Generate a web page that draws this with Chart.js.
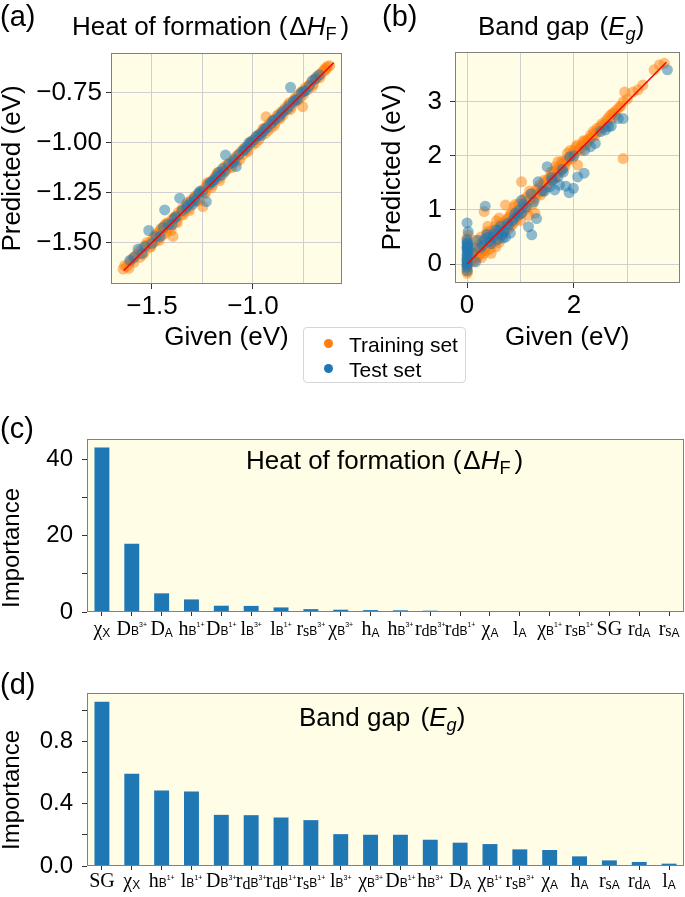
<!DOCTYPE html>
<html><head><meta charset="utf-8">
<script src="https://cdn.jsdelivr.net/npm/chart.js@4/dist/chart.umd.min.js"></script>
<style>
html,body{margin:0;padding:0;background:#fff;}
body{width:685px;height:897px;position:relative;overflow:hidden;font-family:"Liberation Sans",Arial,sans-serif;color:#000;}
canvas{position:absolute;}
.txt{position:absolute;white-space:nowrap;line-height:1;}
.rot{position:absolute;white-space:nowrap;text-align:center;transform:rotate(-90deg);}
sub{font-size:0.7em;vertical-align:-0.25em;line-height:0;}
</style></head><body>
<canvas id="ca" width="350" height="360" style="left:0;top:0"></canvas>
<canvas id="cb" width="325" height="360" style="left:360px;top:0"></canvas>
<canvas id="cc" width="685" height="260" style="left:0;top:390px"></canvas>
<canvas id="cd" width="685" height="247" style="left:0;top:650px"></canvas>

<div class="txt" style="left:0;top:2px;font-size:29px">(a)</div>
<div class="txt" style="left:72px;top:13px;font-size:26px">Heat of formation (<span style="margin-left:2px">Δ</span><i>H</i><sub>F</sub><span style="margin-left:4px">)</span></div>
<div class="txt" style="left:382px;top:2px;font-size:29px">(b)</div>
<div class="txt" style="left:478px;top:13px;font-size:26px">Band gap <span style="margin-left:3px">(</span><i>E<sub>g</sub></i>)</div>

<div style="position:absolute;left:303px;top:327px;width:161px;height:54px;border:1px solid #d6d6d6;border-radius:4px;background:rgba(255,255,255,0.85);">
  <div style="position:absolute;left:20px;top:11px;width:9px;height:9px;border-radius:50%;background:#ff7f0e"></div>
  <div class="txt" style="left:45px;top:6px;font-size:21px">Training set</div>
  <div style="position:absolute;left:20px;top:36px;width:9px;height:9px;border-radius:50%;background:#1f77b4"></div>
  <div class="txt" style="left:45px;top:31px;font-size:21px">Test set</div>
</div>

<div class="txt" style="left:0;top:414px;font-size:29px">(c)</div>
<div class="txt" style="left:246px;top:447px;font-size:26px">Heat of formation (<span style="margin-left:2px">Δ</span><i>H</i><sub>F</sub><span style="margin-left:4px">)</span></div>
<div class="rot" style="left:-89px;top:535px;width:200px;height:26px;line-height:26px;font-size:24px">Importance</div>

<div class="txt" style="left:0;top:670px;font-size:29px">(d)</div>
<div class="txt" style="left:299px;top:704px;font-size:26px">Band gap <span style="margin-left:3px">(</span><i>E<sub>g</sub></i>)</div>
<div class="rot" style="left:-89px;top:777px;width:200px;height:26px;line-height:26px;font-size:24px">Importance</div>

<script>
// ---------------- DATA ----------------
// Panel (a): Heat of formation, [given, predicted] (eV)
const aTrain = [[-1.643,-1.633],[-1.635,-1.615],[-1.625,-1.62],[-1.615,-1.63],[-1.61,-1.6],[-1.6,-1.585],[-1.59,-1.6],[-1.585,-1.57],[-1.575,-1.56],[-1.565,-1.545],[-1.56,-1.575],[-1.55,-1.53],[-1.545,-1.56],[-1.54,-1.55],[-1.53,-1.515],[-1.525,-1.5],[-1.52,-1.51],[-1.51,-1.525],[-1.505,-1.52],[-1.5,-1.49],[-1.495,-1.5],[-1.49,-1.47],[-1.485,-1.495],[-1.48,-1.46],[-1.475,-1.455],[-1.47,-1.48],[-1.465,-1.49],[-1.46,-1.44],[-1.455,-1.43],[-1.45,-1.465],[-1.445,-1.44],[-1.44,-1.42],[-1.435,-1.41],[-1.43,-1.453],[-1.428,-1.405],[-1.42,-1.4],[-1.415,-1.43],[-1.41,-1.415],[-1.405,-1.44],[-1.4,-1.385],[-1.396,-1.47],[-1.39,-1.375],[-1.385,-1.37],[-1.38,-1.395],[-1.375,-1.4],[-1.37,-1.35],[-1.36,-1.365],[-1.355,-1.34],[-1.35,-1.33],[-1.345,-1.36],[-1.34,-1.345],[-1.33,-1.31],[-1.325,-1.3],[-1.32,-1.33],[-1.315,-1.34],[-1.31,-1.29],[-1.3,-1.3],[-1.295,-1.285],[-1.29,-1.27],[-1.285,-1.27],[-1.28,-1.295],[-1.27,-1.26],[-1.265,-1.29],[-1.26,-1.25],[-1.255,-1.24],[-1.248,-1.32],[-1.245,-1.235],[-1.24,-1.255],[-1.235,-1.25],[-1.23,-1.21],[-1.225,-1.2],[-1.22,-1.22],[-1.21,-1.195],[-1.205,-1.225],[-1.2,-1.21],[-1.195,-1.185],[-1.19,-1.175],[-1.18,-1.16],[-1.175,-1.15],[-1.17,-1.18],[-1.165,-1.19],[-1.16,-1.145],[-1.15,-1.16],[-1.145,-1.14],[-1.14,-1.12],[-1.13,-1.135],[-1.125,-1.11],[-1.12,-1.105],[-1.11,-1.12],[-1.105,-1.125],[-1.1,-1.09],[-1.09,-1.08],[-1.085,-1.07],[-1.08,-1.095],[-1.07,-1.06],[-1.065,-1.085],[-1.06,-1.045],[-1.05,-1.06],[-1.045,-1.03],[-1.04,-1.025],[-1.03,-1.04],[-1.025,-1.045],[-1.02,-1.01],[-1.01,-0.995],[-1.005,-0.99],[-1.0,-1.01],[-0.99,-0.985],[-0.985,-1.0],[-0.98,-0.965],[-0.97,-0.985],[-0.965,-0.955],[-0.96,-0.95],[-0.95,-0.93],[-0.945,-0.93],[-0.94,-0.955],[-0.935,-0.87],[-0.93,-0.92],[-0.925,-0.94],[-0.92,-0.905],[-0.91,-0.925],[-0.905,-0.89],[-0.9,-0.885],[-0.895,-0.915],[-0.89,-0.9],[-0.88,-0.865],[-0.875,-0.86],[-0.87,-0.875],[-0.865,-0.88],[-0.86,-0.845],[-0.85,-0.86],[-0.845,-0.835],[-0.84,-0.825],[-0.83,-0.835],[-0.825,-0.81],[-0.82,-0.8],[-0.815,-0.835],[-0.81,-0.82],[-0.8,-0.79],[-0.795,-0.8],[-0.79,-0.775],[-0.78,-0.79],[-0.775,-0.76],[-0.77,-0.76],[-0.765,-0.775],[-0.76,-0.745],[-0.754,-0.82],[-0.75,-0.76],[-0.745,-0.735],[-0.74,-0.725],[-0.73,-0.735],[-0.725,-0.72],[-0.72,-0.71],[-0.71,-0.695],[-0.705,-0.72],[-0.7,-0.705],[-0.69,-0.68],[-0.685,-0.67],[-0.68,-0.67],[-0.67,-0.675],[-0.665,-0.66],[-0.66,-0.65],[-0.65,-0.64],[-0.645,-0.63],[-0.64,-0.635],[-0.635,-0.625],[-0.63,-0.617],[-0.62,-0.615]];
const aTest = [[-1.61,-1.59],[-1.59,-1.575],[-1.569,-1.533],[-1.55,-1.555],[-1.535,-1.52],[-1.516,-1.44],[-1.5,-1.505],[-1.48,-1.47],[-1.46,-1.47],[-1.445,-1.425],[-1.437,-1.337],[-1.42,-1.41],[-1.4,-1.41],[-1.39,-1.38],[-1.38,-1.37],[-1.363,-1.278],[-1.35,-1.34],[-1.33,-1.325],[-1.325,-1.315],[-1.31,-1.3],[-1.3,-1.31],[-1.29,-1.28],[-1.285,-1.29],[-1.27,-1.255],[-1.265,-1.245],[-1.249,-1.245],[-1.231,-1.295],[-1.22,-1.21],[-1.21,-1.2],[-1.2,-1.195],[-1.19,-1.185],[-1.18,-1.17],[-1.17,-1.15],[-1.16,-1.165],[-1.15,-1.13],[-1.14,-1.145],[-1.136,-1.062],[-1.12,-1.11],[-1.1,-1.1],[-1.09,-1.085],[-1.083,-1.12],[-1.07,-1.06],[-1.05,-1.04],[-1.04,-1.035],[-1.03,-1.02],[-1.02,-1.0],[-1.01,-1.0],[-0.995,-0.985],[-0.984,-0.97],[-0.97,-0.96],[-0.96,-0.965],[-0.95,-0.945],[-0.94,-0.93],[-0.93,-0.925],[-0.91,-0.905],[-0.9,-0.89],[-0.89,-0.885],[-0.87,-0.87],[-0.86,-0.855],[-0.85,-0.845],[-0.83,-0.83],[-0.82,-0.815],[-0.814,-0.723],[-0.8,-0.795],[-0.79,-0.785],[-0.78,-0.785],[-0.76,-0.75],[-0.75,-0.745],[-0.74,-0.74],[-0.72,-0.715],[-0.704,-0.687],[-0.69,-0.68],[-0.672,-0.66]];
const aLine = [-1.64, -0.60];
const aXTicks = [-1.5, -1.25, -1.0, -0.75];
const aXLabeled = [-1.5, -1.0];
const aYTicks = [-1.5, -1.25, -1.0, -0.75];

// Panel (b): Band gap, [given, predicted] (eV)
const bTrain = [[0,-0.17],[0,-0.11],[0,-0.05],[0.01,0.02],[0,0.0],[0,0.08],[0.02,0.15],[0,0.3],[0,0.38],[0,0.47],[0.02,0.54],[0.01,-0.14],[0.03,0.25],[0.05,0.1],[0.06,0.2],[0.08,0.05],[0.09,0.12],[0.1,0.15],[0.11,0.3],[0.12,0.2],[0.13,0.05],[0.14,0.44],[0.15,0.1],[0.17,0.2],[0.18,0.12],[0.2,0.25],[0.21,0.35],[0.22,0.15],[0.24,0.2],[0.25,0.3],[0.26,0.5],[0.27,0.12],[0.28,0.38],[0.3,0.25],[0.3,0.42],[0.32,0.2],[0.32,0.97],[0.33,0.3],[0.35,0.45],[0.36,0.25],[0.37,0.6],[0.38,0.55],[0.39,0.7],[0.4,0.35],[0.41,0.55],[0.42,0.5],[0.43,0.28],[0.45,0.2],[0.46,0.62],[0.48,0.45],[0.5,0.6],[0.5,0.38],[0.52,0.42],[0.53,0.7],[0.54,0.32],[0.55,0.8],[0.56,0.45],[0.58,0.55],[0.6,0.85],[0.6,0.4],[0.62,0.5],[0.63,0.75],[0.65,0.7],[0.66,0.55],[0.68,0.62],[0.7,0.78],[0.7,0.6],[0.72,1.09],[0.74,0.82],[0.75,0.7],[0.77,0.65],[0.78,0.85],[0.8,0.9],[0.82,0.7],[0.83,0.95],[0.85,0.88],[0.86,0.75],[0.88,1.05],[0.9,0.8],[0.9,1.1],[0.92,0.95],[0.93,0.85],[0.95,1.0],[0.97,1.12],[0.98,0.92],[1.0,0.81],[1.02,1.52],[1.03,0.95],[1.05,1.05],[1.07,1.2],[1.08,1.0],[1.1,1.15],[1.12,1.24],[1.13,1.05],[1.15,0.9],[1.17,1.35],[1.18,1.2],[1.2,1.3],[1.22,1.1],[1.23,1.2],[1.25,1.28],[1.27,0.94],[1.28,1.22],[1.3,1.38],[1.32,1.3],[1.34,1.4],[1.36,1.46],[1.38,1.28],[1.4,1.43],[1.42,1.35],[1.44,1.55],[1.45,1.5],[1.48,1.42],[1.5,1.55],[1.52,1.48],[1.55,1.61],[1.57,1.7],[1.58,1.55],[1.6,1.65],[1.62,1.7],[1.63,1.58],[1.65,1.6],[1.66,1.8],[1.68,1.75],[1.7,1.89],[1.7,1.74],[1.72,1.72],[1.74,1.7],[1.75,1.8],[1.77,1.9],[1.78,1.85],[1.8,1.78],[1.82,1.9],[1.83,1.8],[1.85,1.88],[1.87,1.92],[1.88,2.05],[1.9,1.92],[1.92,1.98],[1.93,2.1],[1.95,2.0],[1.97,1.95],[1.98,2.05],[2.0,2.1],[2.02,2.05],[2.04,2.17],[2.06,2.2],[2.07,1.83],[2.1,2.12],[2.12,2.15],[2.14,2.1],[2.15,2.2],[2.18,2.28],[2.19,2.26],[2.22,2.2],[2.24,2.25],[2.25,2.3],[2.28,2.28],[2.3,2.32],[2.31,2.38],[2.35,2.35],[2.36,2.45],[2.38,2.42],[2.4,2.38],[2.43,2.51],[2.45,2.45],[2.47,2.5],[2.5,2.55],[2.53,2.6],[2.55,2.52],[2.57,2.58],[2.6,2.65],[2.62,2.6],[2.64,2.7],[2.68,2.75],[2.7,2.68],[2.72,2.78],[2.75,2.8],[2.78,2.75],[2.8,2.85],[2.85,2.9],[2.88,2.92],[2.92,3.0],[2.92,1.95],[2.95,3.18],[3.0,3.05],[3.11,3.18],[3.2,3.22],[3.29,3.31],[3.5,3.59],[3.6,3.68],[3.69,3.71]];
const bTest = [[0,-0.12],[0,-0.06],[0,-0.02],[0,0.0],[0,0.05],[0,0.08],[0,0.1],[0,0.15],[0,0.18],[0.01,0.2],[0,0.25],[0,0.3],[0.01,0.35],[0.01,0.38],[0,0.4],[0,0.45],[0,0.32],[0.01,0.28],[0.02,0.6],[0,0.76],[0.05,0.3],[0.1,0.2],[0.16,0.04],[0.2,0.44],[0.25,0.3],[0.29,0.35],[0.32,0.45],[0.34,1.07],[0.37,0.55],[0.4,0.5],[0.42,0.42],[0.45,0.38],[0.48,0.5],[0.5,0.55],[0.54,0.63],[0.57,0.45],[0.6,0.63],[0.63,0.7],[0.65,0.55],[0.67,0.48],[0.69,0.6],[0.72,0.5],[0.75,0.75],[0.78,0.72],[0.81,0.57],[0.85,0.8],[0.88,0.85],[0.9,0.94],[0.95,0.9],[0.98,1.0],[1.02,1.18],[1.02,0.94],[1.05,1.1],[1.1,1.05],[1.15,0.69],[1.2,1.3],[1.21,0.54],[1.25,1.15],[1.3,0.84],[1.33,1.52],[1.4,1.35],[1.45,1.35],[1.5,1.8],[1.55,1.43],[1.58,1.6],[1.6,1.55],[1.64,1.37],[1.7,1.61],[1.73,1.46],[1.78,1.75],[1.8,1.7],[1.85,1.44],[1.91,1.32],[1.92,1.98],[1.99,1.4],[2.0,2.0],[2.07,1.61],[2.19,1.68],[2.2,2.1],[2.31,2.17],[2.4,2.23],[2.5,2.45],[2.59,2.48],[2.65,2.54],[2.7,2.55],[2.83,2.69],[2.92,2.69],[3.75,3.59]];
const bLine = [0, 3.73];
const bXTicks = [0, 1, 2, 3];
const bXLabeled = [0, 2];
const bYTicks = [0, 1, 2, 3];

// Panel (c): feature importance, heat of formation
const cLabels = ['χ_X','D_{B^{3+}}','D_A','h_{B^{1+}}','D_{B^{1+}}','l_{B^{3+}}','l_{B^{1+}}','r_{s_{B^{3+}}}','χ_{B^{3+}}','h_A','h_{B^{3+}}','r_{d_{B^{3+}}}','r_{d_{B^{1+}}}','χ_A','l_A','χ_{B^{1+}}','r_{s_{B^{1+}}}','SG','r_{d_A}','r_{s_A}'];
const cValues = [43.2,17.9,4.9,3.3,1.65,1.6,1.2,0.75,0.6,0.5,0.45,0.35,0.25,0.2,0.15,0.12,0.06,0.04,0.03,0.02];
const cYTicks = [0, 10, 20, 30, 40];
const cYLabeled = [0, 20, 40];

// Panel (d): feature importance, band gap
const dLabels = ['SG','χ_X','h_{B^{1+}}','l_{B^{1+}}','D_{B^{3+}}','r_{d_{B^{3+}}}','r_{d_{B^{1+}}}','r_{s_{B^{1+}}}','l_{B^{3+}}','χ_{B^{3+}}','D_{B^{1+}}','h_{B^{3+}}','D_A','χ_{B^{1+}}','r_{s_{B^{3+}}}','χ_A','h_A','r_{s_A}','r_{d_A}','l_A'];
const dValues = [1.057,0.593,0.486,0.479,0.329,0.327,0.312,0.295,0.205,0.201,0.201,0.169,0.150,0.141,0.107,0.103,0.062,0.036,0.026,0.015];
const dYTicks = [0, 0.2, 0.4, 0.6, 0.8, 1.0];
const dYLabeled = [0, 0.4, 0.8];

// ---------------- STYLE / HELPERS ----------------
const SANS = '"Liberation Sans", Arial, sans-serif';
const SERIF = '"Liberation Serif", "Times New Roman", serif';
Chart.defaults.font.family = SANS;
Chart.defaults.color = '#000';
const BG = '#fffde5', FRAME = '#808080', GRID = '#cfcfcf', TICK = '#333';
const ORANGE = 'rgba(255,127,14,0.5)', BLUE = 'rgba(31,119,180,0.5)';
const minus = s => s.replace('-', '\u2212');
const pts = arr => arr.map(p => ({x: p[0], y: p[1]}));

const framePlugin = {
  id: 'frame',
  beforeDraw(chart) {
    const a = chart.chartArea, c = chart.ctx;
    c.save(); c.fillStyle = BG; c.fillRect(a.left, a.top, a.right - a.left, a.bottom - a.top); c.restore();
  },
  afterDraw(chart) {
    const a = chart.chartArea, c = chart.ctx;
    c.save(); c.strokeStyle = FRAME; c.lineWidth = 1;
    c.strokeRect(Math.round(a.left) + 0.5, Math.round(a.top) + 0.5, Math.round(a.right - a.left) - 1, Math.round(a.bottom - a.top) - 1);
    c.restore();
  }
};

function parseTex(s) {
  let i = 0;
  function grp() {
    const out = [];
    while (i < s.length && s[i] !== '}') {
      const ch = s[i];
      if (ch === '_' || ch === '^') {
        i++;
        let inner;
        if (s[i] === '{') { i++; inner = grp(); i++; } else { inner = [{t: s[i++]}]; }
        const last = out[out.length - 1];
        if (ch === '_') last.sub = inner; else last.sup = inner;
      } else { out.push({t: ch}); i++; }
    }
    return out;
  }
  return grp();
}
function runsOf(nodes, role) {
  const out = [];
  nodes.forEach(n => {
    let font, dy;
    if (role === 'main') { font = '20px ' + SERIF; dy = 0; }
    else if (role === 'sub') {
      if (/[a-z]/.test(n.t)) { font = '16px ' + SERIF; dy = 1.5; }
      else { font = '12px ' + SANS; dy = n.sup ? 0 : 2; }
    } else { font = '7px ' + SANS; dy = -7.5; }
    out.push({t: n.t, font, dy});
    if (n.sup) out.push(...runsOf(n.sup, 'sup'));
    if (n.sub) out.push(...runsOf(n.sub, 'sub'));
  });
  return out;
}
const richLabels = {
  id: 'richLabels',
  afterDraw(chart, args, opts) {
    if (!opts || !opts.labels) return;
    const c = chart.ctx, xs = chart.scales.x;
    const base = xs.top + opts.offset;
    c.save(); c.fillStyle = '#000'; c.textBaseline = 'alphabetic'; c.textAlign = 'left';
    opts.labels.forEach((lab, i) => {
      const runs = runsOf(parseTex(lab), 'main');
      let w = 0;
      runs.forEach(r => { c.font = r.font; r.w = c.measureText(r.t).width; w += r.w; });
      let x = xs.getPixelForTick(i) - w / 2;
      runs.forEach(r => { c.font = r.font; c.fillText(r.t, x, base + r.dy); x += r.w; });
    });
    c.restore();
  }
};

function scatterChart(id, cfg) {
  return new Chart(document.getElementById(id), {
    type: 'scatter',
    data: { datasets: [
      { type: 'line', data: cfg.line.map(v => ({x: v, y: v})), borderColor: '#ff0000', borderWidth: 1.5, pointRadius: 0, order: 0 },
      { label: 'Test set', data: pts(cfg.test), backgroundColor: BLUE, borderWidth: 0, pointRadius: 5.5, order: 1 },
      { label: 'Training set', data: pts(cfg.train), backgroundColor: ORANGE, borderWidth: 0, pointRadius: 5.5, order: 2 }
    ]},
    options: {
      responsive: false, animation: false, events: [],
      layout: { padding: cfg.padding },
      plugins: { legend: {display: false}, tooltip: {enabled: false} },
      scales: {
        x: {
          type: 'linear', min: cfg.xMin, max: cfg.xMax,
          afterBuildTicks: s => { s.ticks = cfg.xTicks.map(v => ({value: v})); },
          afterFit: s => { s.height = cfg.xH; },
          ticks: { autoSkip: false, maxRotation: 0, padding: 2, font: {size: 26},
                   callback: v => cfg.xLabeled.includes(v) ? minus(v.toFixed(cfg.xDec)) : '' },
          grid: { color: GRID, tickLength: 5, tickColor: ctx => (ctx.tick && cfg.xLabeled.includes(ctx.tick.value)) ? TICK : 'rgba(0,0,0,0)' },
          border: { display: false },
          title: { display: true, text: 'Given (eV)', font: {size: 26, lineHeight: 1}, padding: {top: 0, bottom: 9} }
        },
        y: {
          type: 'linear', min: cfg.yMin, max: cfg.yMax,
          afterBuildTicks: s => { s.ticks = cfg.yTicks.map(v => ({value: v})); },
          afterFit: s => { s.width = cfg.yW; },
          ticks: { autoSkip: false, padding: cfg.yPad, font: {size: 26},
                   callback: v => minus(v.toFixed(cfg.yDec)) },
          grid: { color: GRID, tickLength: 5, tickColor: TICK },
          border: { display: false },
          title: { display: true, text: 'Predicted (eV)', font: {size: 26, lineHeight: 1}, padding: {top: cfg.yTitlePad, bottom: 0} }
        }
      }
    },
    plugins: [framePlugin]
  });
}

scatterChart('ca', {
  train: aTrain, test: aTest, line: aLine,
  xMin: -1.703, xMax: -0.559, yMin: -1.708, yMax: -0.551,
  xTicks: aXTicks, xLabeled: aXLabeled, yTicks: aYTicks, xDec: 1, yDec: 2,
  padding: {top: 53, right: 8, left: 0, bottom: 0}, xH: 76, yW: 111, yPad: 4, yTitlePad: 0
});
scatterChart('cb', {
  train: bTrain, test: bTest, line: bLine,
  xMin: -0.226, xMax: 3.976, yMin: -0.35, yMax: 3.92,
  xTicks: bXTicks, xLabeled: bXLabeled, yTicks: bYTicks, xDec: 0, yDec: 0,
  padding: {top: 52, right: 1, left: 0, bottom: 0}, xH: 77, yW: 95, yPad: 8, yTitlePad: 20
});

function barChart(id, cfg) {
  return new Chart(document.getElementById(id), {
    type: 'bar',
    data: { labels: cfg.labels, datasets: [{ data: cfg.values, backgroundColor: '#1f77b4', borderWidth: 0, barPercentage: 0.5, categoryPercentage: 1.0 }] },
    options: {
      responsive: false, animation: false, events: [],
      layout: { padding: cfg.padding },
      plugins: { legend: {display: false}, tooltip: {enabled: false}, richLabels: { labels: cfg.labels, offset: cfg.labOff } },
      scales: {
        x: {
          type: 'category', offset: true,
          afterFit: s => { s.height = cfg.xH; },
          ticks: { display: false, autoSkip: false },
          grid: { display: true, offset: false, drawOnChartArea: false, tickLength: 4, tickColor: TICK },
          border: { display: false }
        },
        y: {
          min: 0, max: cfg.yMax,
          afterBuildTicks: s => { s.ticks = cfg.yTicks.map(v => ({value: v})); },
          afterFit: s => { s.width = 87; },
          ticks: { autoSkip: false, padding: 9, font: {size: 24},
                   callback: v => cfg.yLabeled.includes(v) ? v.toFixed(cfg.yDec) : '' },
          grid: { drawOnChartArea: false, tickLength: 5, tickColor: TICK },
          border: { display: false }
        }
      }
    },
    plugins: [framePlugin, richLabels]
  });
}

barChart('cc', { labels: cLabels, values: cValues, yMax: 45.4, yTicks: cYTicks, yLabeled: cYLabeled, yDec: 0,
  padding: {top: 49, right: 1, left: 0, bottom: 0}, xH: 38, labOff: 22.5 });
barChart('cd', { labels: dLabels, values: dValues, yMax: 1.113, yTicks: dYTicks, yLabeled: dYLabeled, yDec: 1,
  padding: {top: 43, right: 1, left: 0, bottom: 0}, xH: 31, labOff: 21 });
</script>
</body></html>
